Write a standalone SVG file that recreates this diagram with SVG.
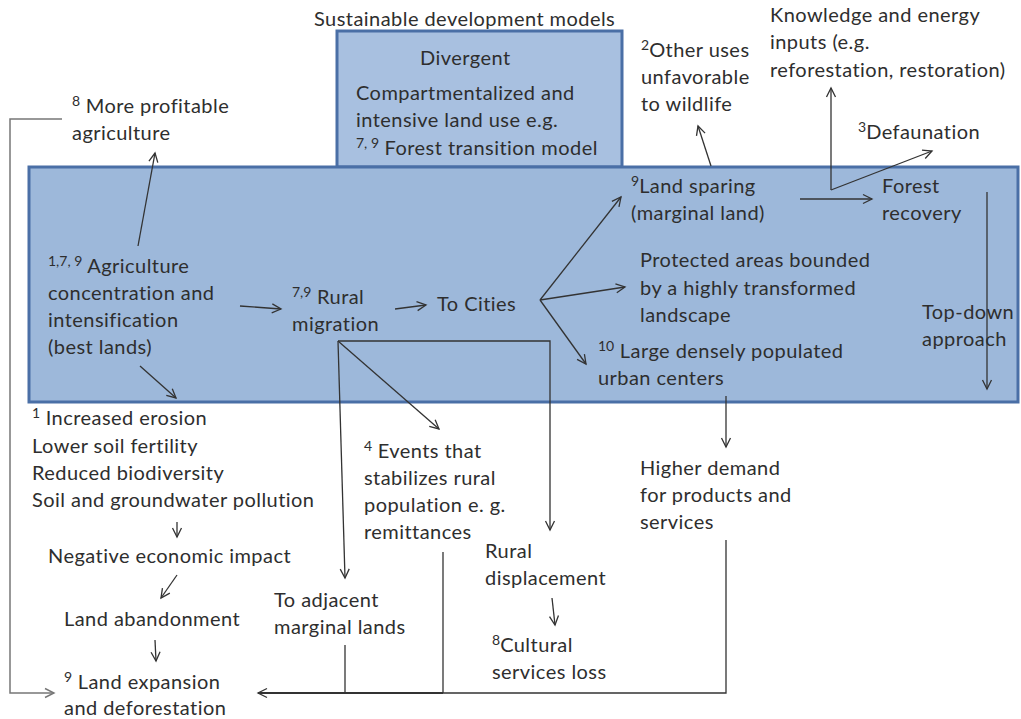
<svg xmlns="http://www.w3.org/2000/svg" width="1021" height="719" viewBox="0 0 1021 719">
<defs>
<style>
text{font-family:Lato,"Liberation Sans",sans-serif;font-size:20px;letter-spacing:0.45px;fill:#2e2e2e}
.sup{font-size:14px;letter-spacing:0}
.ln{fill:none;stroke:#333;stroke-width:1.3}
.gr{fill:none;stroke:#777;stroke-width:1.5}
.box{fill:#9db8da;stroke:#4a6fa6;stroke-width:3}
.box2{fill:#a8c0e0;stroke:#4a6fa6;stroke-width:3}
</style>
<marker id="ah" markerWidth="12" markerHeight="12" refX="10" refY="6" orient="auto" markerUnits="userSpaceOnUse">
<path d="M1,1.5 L10,6 L1,10.5" fill="none" stroke="#333" stroke-width="1.3"/>
</marker>
<marker id="ahg" markerWidth="12" markerHeight="12" refX="10" refY="6" orient="auto" markerUnits="userSpaceOnUse">
<path d="M1,1.5 L10,6 L1,10.5" fill="none" stroke="#777" stroke-width="1.4"/>
</marker>
</defs>

<g id="frames">
<rect class="box2" x="337" y="31" width="285" height="136"/>
<rect class="box" x="29" y="167" width="989" height="235"/>
</g>

<g id="connectors">
<polyline class="gr" points="62,119 10,119 10,693 54,693" marker-end="url(#ahg)"/>
<line class="ln" x1="138" y1="246" x2="155" y2="153" marker-end="url(#ah)"/>
<line class="ln" x1="140" y1="366" x2="176" y2="398" marker-end="url(#ah)"/>
<line class="ln" x1="240" y1="306" x2="281" y2="309" marker-end="url(#ah)"/>
<line class="ln" x1="395" y1="309" x2="426" y2="305" marker-end="url(#ah)"/>
<line class="ln" x1="540" y1="300" x2="621" y2="197" marker-end="url(#ah)"/>
<line class="ln" x1="540" y1="300" x2="625" y2="287" marker-end="url(#ah)"/>
<line class="ln" x1="540" y1="300" x2="586" y2="364" marker-end="url(#ah)"/>
<line class="ln" x1="800" y1="199" x2="872" y2="199" marker-end="url(#ah)"/>
<line class="ln" x1="831" y1="190" x2="831" y2="88" marker-end="url(#ah)"/>
<line class="ln" x1="831" y1="190" x2="932" y2="151" marker-end="url(#ah)"/>
<line class="ln" x1="711" y1="166" x2="698" y2="126" marker-end="url(#ah)"/>
<line class="ln" x1="987" y1="192" x2="987" y2="389" marker-end="url(#ah)"/>
<polyline class="ln" points="338,341 550,341 550,530" marker-end="url(#ah)"/>
<line class="ln" x1="338" y1="341" x2="439" y2="429" marker-end="url(#ah)"/>
<line class="ln" x1="338" y1="341" x2="345" y2="578" marker-end="url(#ah)"/>
<line class="ln" x1="726" y1="396" x2="726" y2="447" marker-end="url(#ah)"/>
<polyline class="ln" points="726,540 726,693 258,693" marker-end="url(#ah)"/>
<line class="ln" x1="443" y1="552" x2="443" y2="693"/>
<line class="ln" x1="345" y1="645" x2="345" y2="693"/>
<line class="ln" x1="258" y1="693" x2="443" y2="693" style="stroke-width:2.2"/>
<line class="ln" x1="177" y1="522" x2="177" y2="537" marker-end="url(#ah)"/>
<line class="ln" x1="177" y1="575" x2="161" y2="598" marker-end="url(#ah)"/>
<line class="ln" x1="155" y1="640" x2="156" y2="661" marker-end="url(#ah)"/>
<line class="ln" x1="552" y1="598" x2="555" y2="625" marker-end="url(#ah)"/>
</g>

<g id="title"><text x="314" y="26">Sustainable development models</text></g>
<g id="divergent">
<text x="420" y="65">Divergent</text>
<text x="356" y="100">Compartmentalized and</text>
<text x="356" y="127">intensive land use e.g.</text>
<text x="356" y="155"><tspan class="sup" dy="-7">7, 9</tspan><tspan dy="7"> Forest transition model</tspan></text>
</g>
<g id="other-uses">
<text x="641" y="57"><tspan class="sup" dy="-7">2</tspan><tspan dy="7">Other uses</tspan></text>
<text x="641" y="84">unfavorable</text>
<text x="641" y="111">to wildlife</text>
</g>
<g id="knowledge">
<text x="770" y="22">Knowledge and energy</text>
<text x="770" y="49">inputs (e.g.</text>
<text x="770" y="77">reforestation, restoration)</text>
</g>
<g id="defaunation"><text x="858" y="139"><tspan class="sup" dy="-7">3</tspan><tspan dy="7">Defaunation</tspan></text></g>
<g id="profitable">
<text x="72" y="113"><tspan class="sup" dy="-7">8</tspan><tspan dy="7"> More profitable</tspan></text>
<text x="72" y="140">agriculture</text>
</g>
<g id="agriculture">
<text x="48" y="273"><tspan class="sup" dy="-7">1,7, 9</tspan><tspan dy="7"> Agriculture</tspan></text>
<text x="48" y="300">concentration and</text>
<text x="48" y="327">intensification</text>
<text x="48" y="354">(best lands)</text>
</g>
<g id="rural-migration">
<text x="292" y="304"><tspan class="sup" dy="-7">7,9</tspan><tspan dy="7"> Rural</tspan></text>
<text x="292" y="331">migration</text>
</g>
<g id="to-cities"><text x="437" y="311">To  Cities</text></g>
<g id="land-sparing">
<text x="631" y="193"><tspan class="sup" dy="-7">9</tspan><tspan dy="7">Land sparing</tspan></text>
<text x="631" y="220">(marginal land)</text>
</g>
<g id="forest-recovery">
<text x="882" y="193">Forest</text>
<text x="882" y="220">recovery</text>
</g>
<g id="protected">
<text x="640" y="267">Protected areas bounded</text>
<text x="640" y="295">by  a highly transformed</text>
<text x="640" y="322">landscape</text>
</g>
<g id="urban">
<text x="598" y="358"><tspan class="sup" dy="-7">10</tspan><tspan dy="7"> Large densely populated</tspan></text>
<text x="598" y="385">urban centers</text>
</g>
<g id="top-down">
<text x="922" y="319">Top-down</text>
<text x="922" y="346">approach</text>
</g>
<g id="erosion">
<text x="32" y="425"><tspan class="sup" dy="-7">1</tspan><tspan dy="7"> Increased erosion</tspan></text>
<text x="32" y="453">Lower soil fertility</text>
<text x="32" y="480">Reduced biodiversity</text>
<text x="32" y="507">Soil and groundwater pollution</text>
</g>
<g id="negative"><text x="48" y="563">Negative economic impact</text></g>
<g id="abandonment"><text x="64" y="626">Land abandonment</text></g>
<g id="expansion">
<text x="64" y="689"><tspan class="sup" dy="-7">9</tspan><tspan dy="7"> Land expansion</tspan></text>
<text x="64" y="715">and deforestation</text>
</g>
<g id="events">
<text x="364" y="458"><tspan class="sup" dy="-7">4</tspan><tspan dy="7">  Events that</tspan></text>
<text x="364" y="485">stabilizes rural</text>
<text x="364" y="512">population e. g.</text>
<text x="364" y="539">remittances</text>
</g>
<g id="adjacent">
<text x="274" y="607">To adjacent</text>
<text x="274" y="634">marginal lands</text>
</g>
<g id="displacement">
<text x="485" y="558">Rural</text>
<text x="485" y="585">displacement</text>
</g>
<g id="cultural">
<text x="492" y="652"><tspan class="sup" dy="-7">8</tspan><tspan dy="7">Cultural</tspan></text>
<text x="492" y="679">services loss</text>
</g>
<g id="demand">
<text x="640" y="475">Higher demand</text>
<text x="640" y="502">for products and</text>
<text x="640" y="529">services</text>
</g>
</svg>
